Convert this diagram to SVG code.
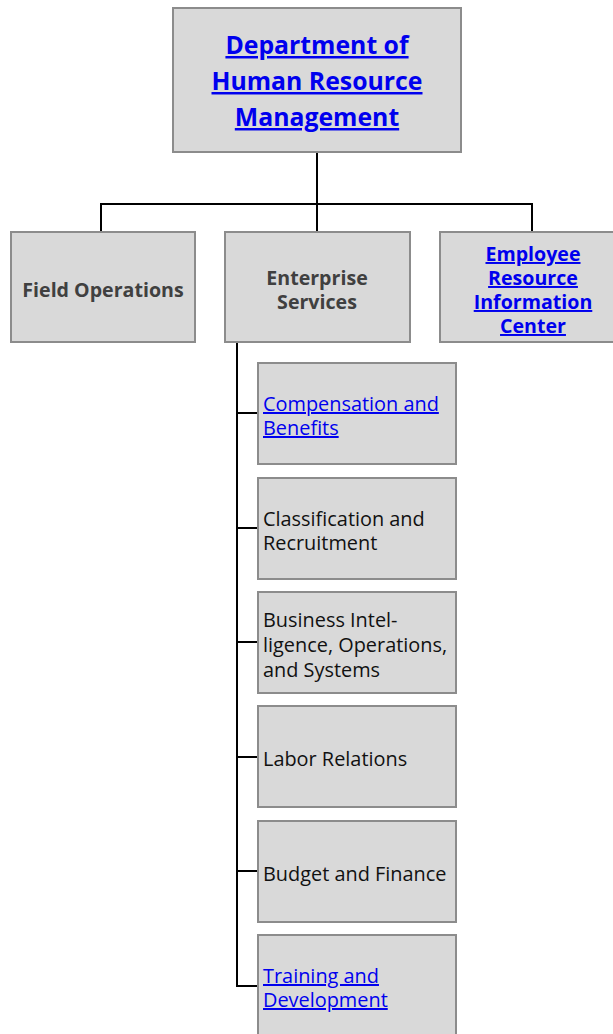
<svg xmlns="http://www.w3.org/2000/svg" width="613" height="1034" viewBox="0 0 613 1034">
<style>
.box{fill:#d9d9d9;stroke:#8c8c8c;stroke-width:2}
.con{stroke:#000;stroke-width:2;fill:none}
.t{font-family:"Open Sans","Liberation Sans",sans-serif;font-size:19.9px;fill:#111}
.lk{fill:#0000ee;text-decoration:underline}
.b{font-family:"Open Sans","Liberation Sans",sans-serif;font-weight:bold;font-size:19.6px;fill:#404040;text-anchor:middle}
.bl{fill:#0000ee;text-decoration:underline}
.h{font-family:"Open Sans","Liberation Sans",sans-serif;font-weight:bold;font-size:24.8px;fill:#0000ee;text-anchor:middle;text-decoration:underline}
</style>
<rect width="613" height="1034" fill="#fff"/>
<g id="connectors">
<path class="con" d="M317 152V204M101 232V204H532V232M317 204V232"/>
<path class="con" d="M237 342V986H258M237 413H258M237 528H258M237 642H258M237 757H258M237 871H258"/>
</g>
<g id="dhrm">
<rect class="box" x="173" y="8" width="288" height="144"/>
<text class="h" x="317" y="54">Department of</text>
<text class="h" x="317" y="90">Human Resource</text>
<text class="h" x="317" y="126">Management</text>
</g>
<g id="field">
<rect class="box" x="11" y="232" width="184" height="110"/>
<text class="b" x="103" y="297">Field Operations</text>
</g>
<g id="enterprise">
<rect class="box" x="225" y="232" width="185" height="110"/>
<text class="b" x="317" y="285">Enterprise</text>
<text class="b" x="317" y="309">Services</text>
</g>
<g id="eric">
<rect class="box" x="440" y="232" width="175" height="110"/>
<text class="b bl" x="533" y="261">Employee</text>
<text class="b bl" x="533" y="285">Resource</text>
<text class="b bl" x="533" y="309">Information</text>
<text class="b bl" x="533" y="333">Center</text>
</g>
<g id="comp">
<rect class="box" x="258" y="363" width="198" height="101"/>
<text class="t lk" x="263" y="411">Compensation and</text>
<text class="t lk" x="263" y="435">Benefits</text>
</g>
<g id="class">
<rect class="box" x="258" y="478" width="198" height="101"/>
<text class="t" x="263" y="526">Classification and</text>
<text class="t" x="263" y="550">Recruitment</text>
</g>
<g id="bios">
<rect class="box" x="258" y="592" width="198" height="101"/>
<text class="t" x="263" y="627">Business Intel-</text>
<text class="t" x="263" y="652">ligence, Operations,</text>
<text class="t" x="263" y="677">and Systems</text>
</g>
<g id="labor">
<rect class="box" x="258" y="706" width="198" height="101"/>
<text class="t" x="263" y="766">Labor Relations</text>
</g>
<g id="budget">
<rect class="box" x="258" y="821" width="198" height="101"/>
<text class="t" x="263" y="881">Budget and Finance</text>
</g>
<g id="training">
<rect class="box" x="258" y="935" width="198" height="101"/>
<text class="t lk" x="263" y="983">Training and</text>
<text class="t lk" x="263" y="1007">Development</text>
</g>
</svg>
